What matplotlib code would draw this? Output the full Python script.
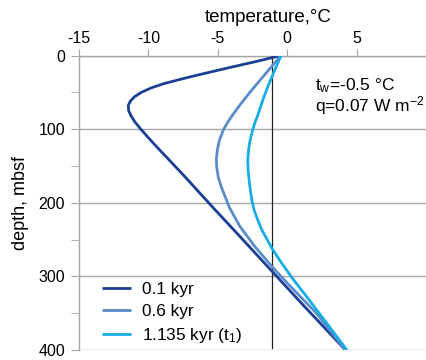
import matplotlib
matplotlib.use("Agg")
import matplotlib.pyplot as plt
from matplotlib.ticker import MultipleLocator

# --- data --------------------------------------------------------------------
depth_01 = [0, 8, 17, 29, 38, 44, 50, 56, 62, 68, 75, 82, 90, 100, 110, 120, 130, 164, 207, 250, 293, 340, 400]
temp_01 = [-0.45, -2.2, -4.3, -7.0, -8.85, -9.8, -10.5, -11.0, -11.3, -11.45, -11.42, -11.25, -10.98,
           -10.55, -10.08, -9.6, -9.1, -7.4, -5.32, -3.2, -1.1, 1.2, 4.2]

depth_06 = [0, 10, 20, 33, 51, 67, 80, 91, 101, 115, 128, 140, 151, 165, 180, 207, 232, 259, 286, 310, 350, 400]
temp_06 = [-0.45, -0.9, -1.35, -1.93, -2.73, -3.4, -3.9, -4.3, -4.6, -4.88, -5.03, -5.1, -5.08, -4.97,
           -4.72, -4.15, -3.41, -2.35, -1.13, 0.05, 2.1, 4.2]

depth_1135 = [0, 20, 40, 60, 80, 90, 100, 110, 120, 130, 142, 155, 170, 182, 196, 209, 222, 236, 248,
              261, 282, 304, 330, 360, 400]
temp_1135 = [-0.45, -0.9, -1.35, -1.75, -2.1, -2.3, -2.47, -2.61, -2.72, -2.79, -2.84, -2.82, -2.74,
             -2.66, -2.55, -2.4, -2.15, -1.85, -1.5, -1.13, -0.4, 0.43, 1.5, 2.7, 4.3]

labels = ["0.1 kyr", "0.6 kyr", "1.135 kyr (t$_1$)"]
boundary_temp = -1.1          # thin black vertical line
boundary_depth = [0, 397]

# --- style -------------------------------------------------------------------
GRID = "#a6a6a6"
COLORS = ["#1b3f94", "#5b8bc8", "#16ade4"]
plt.rcParams.update({
    "font.family": "Liberation Sans",
    "font.size": 11.5,
    "mathtext.fontset": "custom",
    "mathtext.rm": "Liberation Sans",
    "mathtext.it": "Liberation Sans:italic",
})

fig = plt.figure(figsize=(4.27, 3.6), dpi=100)
ax = fig.add_axes([79 / 427, 10 / 360, 347 / 427, 294.5 / 360])

for d, t, c, lab in zip([depth_01, depth_06, depth_1135], [temp_01, temp_06, temp_1135], COLORS, labels):
    ax.plot(t, d, color=c, lw=2.0, label=lab, solid_capstyle="butt", solid_joinstyle="round", zorder=3)

ax.plot([boundary_temp, boundary_temp], boundary_depth, color="#222222", lw=0.9, zorder=2)

ax.set_xlim(-15, 10)
ax.set_ylim(400, 0)
ax.xaxis.tick_top()
ax.set_xticks([-15, -10, -5, 0, 5, 10])
ax.set_xticklabels(["-15", "-10", "-5", "0", "5", ""])
ax.set_yticks([0, 100, 200, 300, 400])
ax.yaxis.set_minor_locator(MultipleLocator(50))
ax.tick_params(axis="x", which="major", length=5, color=GRID, pad=1.5, labelsize=11.5)
ax.tick_params(axis="y", which="both", length=6, color=GRID, pad=4, labelsize=11.5)

for side in ["right", "bottom"]:
    ax.spines[side].set_visible(False)
for side in ["top", "left"]:
    ax.spines[side].set_color(GRID)
    ax.spines[side].set_linewidth(1.0)

ax.yaxis.grid(True, color=GRID, lw=1.0, zorder=1)
ax.set_axisbelow(True)
ax.set_ylabel("depth, mbsf", fontsize=13, labelpad=7)
fig.text(268 / 427, 1 - 18 / 360, "temperature,\u00b0C", ha="center", va="center", fontsize=13.5)

ax.text(315 / 427, 1 - 86 / 360, "t$_\\mathrm{w}$=-0.5 \u00b0C", transform=fig.transFigure,
        ha="left", va="center", fontsize=12.5)
ax.text(315 / 427, 1 - 106 / 360, "q=0.07 W m$^{-2}$", transform=fig.transFigure,
        ha="left", va="center", fontsize=12.5)

ax.legend(loc="upper left", bbox_to_anchor=(0.066, 0.232), frameon=False, handlelength=1.7,
          handletextpad=0.6, labelspacing=0.4, borderpad=0, borderaxespad=0, fontsize=12.4)

fig.savefig("out.png", dpi=100)
